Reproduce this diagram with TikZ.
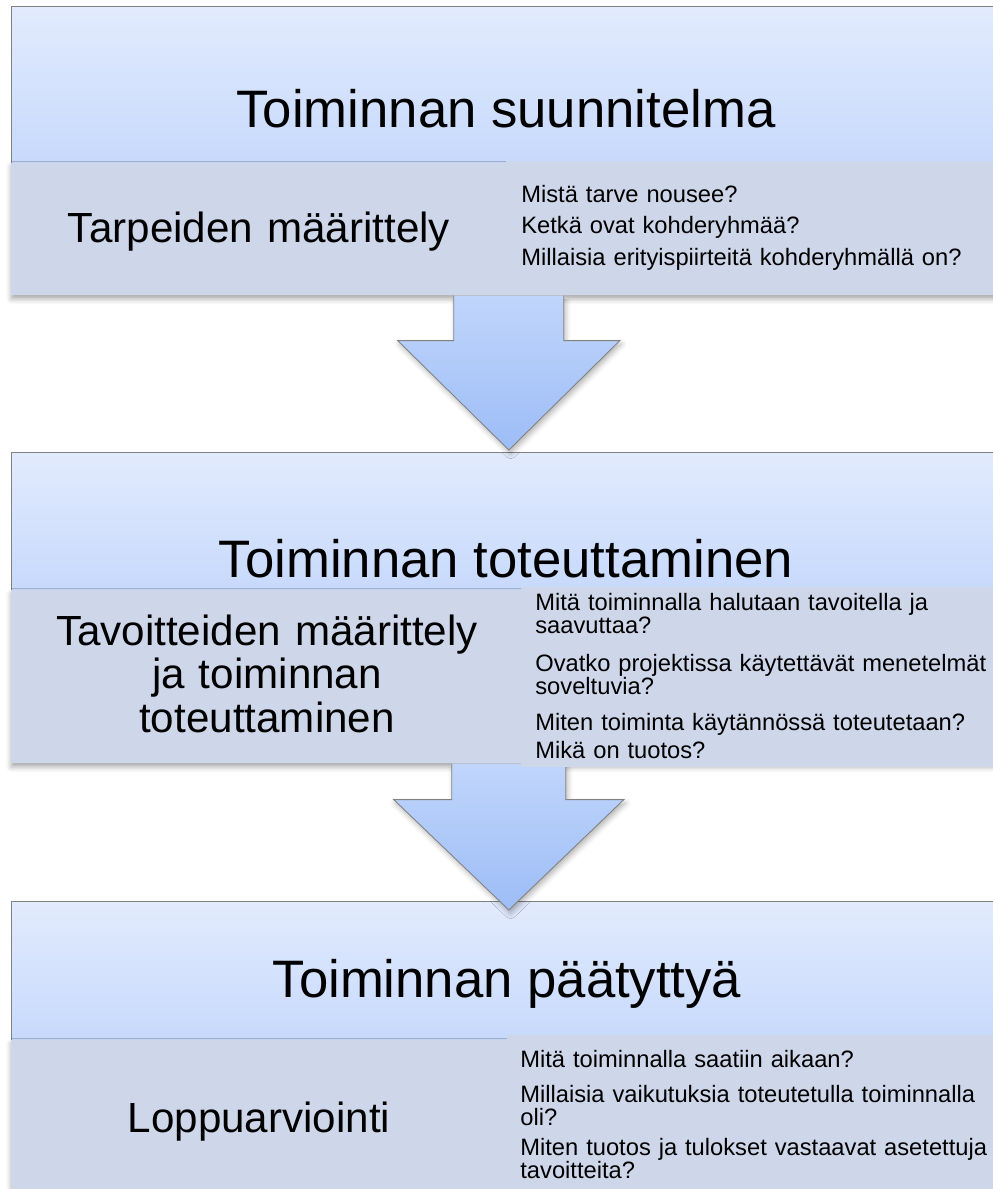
\documentclass[tikz,border=0pt]{standalone}
\usepackage{fontspec}
\setmainfont{Liberation Sans}
\usetikzlibrary{calc,shadows.blur}
\definecolor{paleblue}{RGB}{226,235,253}
\definecolor{midblue}{RGB}{199,217,252}
\definecolor{bandgray}{RGB}{206,214,233}
\definecolor{arrowtop}{RGB}{192,213,251}
\definecolor{arrowbot}{RGB}{157,189,247}
\definecolor{edgegray}{RGB}{130,130,130}
\begin{document}
\begin{tikzpicture}[x=0.02cm, y=-0.02cm,
  titlebox/.style = {shape=rectangle, anchor=north west, inner sep=0pt,
    minimum width=19.9cm, draw=edgegray, line width=0.5pt,
    top color=paleblue, bottom color=midblue},
  band/.style = {shape=rectangle, anchor=north west, inner sep=0pt,
    minimum width=19.9cm, fill=bandgray,
    blur shadow={shadow xshift=0pt, shadow yshift=-2pt,
      shadow blur radius=3pt, shadow opacity=35}},
  qbox/.style = {shape=rectangle, anchor=north west, inner sep=0pt,
    fill=bandgray},
  bigarrow/.style = {draw=edgegray, line width=0.5pt, line join=miter,
    top color=arrowtop, bottom color=arrowbot,
    blur shadow={shadow xshift=1pt, shadow yshift=-2pt,
      shadow blur radius=3pt, shadow opacity=30}},
  headline/.style = {anchor=base, inner sep=0pt,
    font=\fontsize{30}{34}\selectfont},
  phase/.style = {anchor=base, align=center, text width=9.5cm,
    inner sep=0pt, font=\fontsize{24}{25}\selectfont},
  question/.style = {anchor=base west, align=left, text width=9.4cm,
    inner sep=0pt, font=\fontsize{13.5}{13.6}\selectfont}]
  \useasboundingbox (0,0) rectangle (992,1189);

  % blocks
  \node[titlebox, minimum height=3.14cm] (suunnitelma) at (11,6) {};
  \node[band, minimum height=2.64cm] (tarpeet) at (11,163) {};
  \node[titlebox, minimum height=2.76cm] (toteutus) at (11,452) {};
  \node[band, minimum height=3.46cm] (tavoitteet) at (11,590) {};
  \node[titlebox, minimum height=2.78cm] (paatos) at (11,901) {};
  \node[band, minimum height=3.2cm] (arviointi) at (11,1040) {};

  % arrows between the blocks
  \path[bigarrow] ($(tarpeet.south)+(-55,0)$) -- ++(0,45) -- ++(-56,0)
    -- ($(toteutus.north)+(0,-2)$) -- ($(tarpeet.south)+(111,45)$)
    -- ++(-56,0) -- ++(0,-45);
  \path[bigarrow] ($(tavoitteet.south)+(-57,0)$) -- ++(0,36) -- ++(-58,0)
    -- ($(paatos.north)+(0,9)$) -- ($(tavoitteet.south)+(115,36)$)
    -- ++(-58,0) -- ++(0,-36);

  % question boxes
  \node[qbox, minimum width=10cm, minimum height=2.68cm] (kysymykset1) at (506,161) {};
  \node[qbox, minimum width=9.7cm, minimum height=3.6cm] (kysymykset2) at (521,587) {};
  \node[qbox, minimum width=10cm, minimum height=3.3cm] (kysymykset3) at (507,1035) {};

  % texts
  \node[headline] (otsikko1) at (506,128) {Toiminnan suunnitelma};
  \node[phase] (vaihe1) at (259,243) {Tarpeiden määrittely};
  \node[question] (k11) at (521,203) {Mistä tarve nousee?};
  \node[question] (k12) at (521,234) {Ketkä ovat kohderyhmää?};
  \node[question] (k13) at (521,266) {Millaisia erityispiirteitä kohderyhmällä on?};

  \node[headline] (otsikko2) at (506,577) {Toiminnan toteuttaminen};
  \node[phase] (vaihe2) at (267,645) {Tavoitteiden määrittely\\ja toiminnan\\toteuttaminen};
  \node[question] (k21) at (535,610) {Mitä toiminnalla halutaan tavoitella ja\\saavuttaa?};
  \node[question] (k22) at (535,671) {Ovatko projektissa käytettävät menetelmät\\soveltuvia?};
  \node[question] (k23) at (535,730) {Miten toiminta käytännössä toteutetaan?};
  \node[question] (k24) at (535,758) {Mikä on tuotos?};

  \node[headline] (otsikko3) at (507,997) {Toiminnan päätyttyä};
  \node[phase] (vaihe3) at (259,1132) {Loppuarviointi};
  \node[question] (k31) at (520,1067) {Mitä toiminnalla saatiin aikaan?};
  \node[question] (k32) at (520,1102) {Millaisia vaikutuksia toteutetulla toiminnalla\\oli?};
  \node[question] (k33) at (520,1155) {Miten tuotos ja tulokset vastaavat asetettuja\\tavoitteita?};
\end{tikzpicture}
\end{document}
